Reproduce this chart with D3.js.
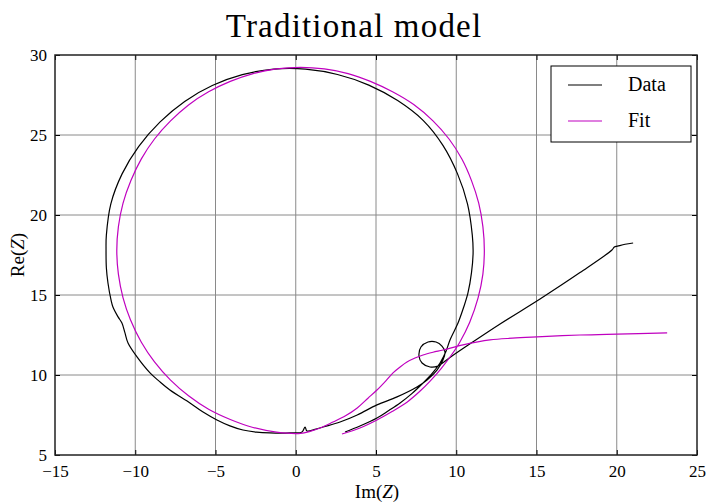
<!DOCTYPE html>
<html>
<head>
<meta charset="utf-8">
<script src="https://cdn.jsdelivr.net/npm/d3@7/dist/d3.min.js"></script>
<style>
  html, body { margin: 0; padding: 0; background: #fff; }
  svg { display: block; }
  text { font-family: "Liberation Serif", "DejaVu Serif", serif; fill: #000; }
</style>
</head>
<body>
<svg id="chart" width="709" height="504"></svg>
<script>
// Measured impedance trace: Im(Z) and Re(Z)
const dataIm = [3.07, 4.00, 5.06, 5.80, 6.50, 7.25, 7.93, 8.50, 8.99, 9.35, 9.61, 10.11, 10.45, 10.73, 10.95, 11.05, 11.00, 10.70, 10.08, 9.17, 7.95, 6.35, 4.55, 2.60, 0.61, -1.37, -3.33, -5.20, -6.92, -8.45, -9.78, -10.82, -11.52, -11.80, -11.82, -11.80, -11.70, -11.51, -11.39, -11.07, -10.83, -10.64, -10.45, -9.89, -9.08, -8.50, -7.84, -6.59, -5.80, -4.91, -4.10, -3.29, -2.45, -1.61, -0.36, 0.39, 0.58, 0.70, 1.20, 1.70, 2.76, 3.83, 5.06, 6.31, 7.55, 8.18, 8.80, 9.17, 9.30, 9.11, 8.74, 8.24, 7.80, 7.68, 7.87, 8.37, 8.86, 9.61, 10.86, 12.73, 15.22, 17.71, 19.70, 19.85, 20.05, 20.52, 21.02];
const dataRe = [6.44, 6.81, 7.31, 7.78, 8.25, 8.85, 9.50, 10.10, 10.75, 11.45, 12.19, 13.25, 14.20, 15.13, 16.40, 17.63, 18.74, 20.70, 22.57, 24.35, 25.90, 27.15, 28.12, 28.78, 29.12, 29.12, 28.77, 28.09, 27.10, 25.82, 24.29, 22.57, 20.70, 18.74, 17.81, 16.70, 15.75, 14.69, 14.25, 13.63, 13.25, 12.63, 12.00, 11.13, 10.13, 9.60, 9.06, 8.25, 7.70, 7.19, 6.82, 6.56, 6.43, 6.38, 6.38, 6.44, 6.75, 6.50, 6.60, 6.75, 7.06, 7.50, 8.13, 8.63, 9.25, 9.69, 10.31, 10.94, 11.44, 11.81, 12.06, 12.06, 11.75, 11.19, 10.75, 10.50, 10.56, 11.10, 11.95, 13.19, 14.75, 16.40, 17.81, 18.00, 18.05, 18.17, 18.25];

// Fitted model: Im(Z) and Re(Z)
const fitIm = [2.88, 4.00, 5.06, 6.00, 6.93, 7.70, 8.40, 9.07, 9.70, 10.22, 10.84, 11.36, 11.66, 11.75, 11.66, 11.40, 10.95, 10.35, 9.55, 8.55, 7.35, 6.03, 4.65, 3.26, 1.78, 0.30, -1.20, -2.66, -4.08, -5.43, -6.68, -7.80, -8.80, -9.62, -10.27, -10.76, -11.05, -11.15, -11.05, -10.76, -10.30, -9.62, -8.80, -7.80, -6.68, -5.43, -4.08, -2.66, -1.20, 0.30, 0.89, 1.60, 2.32, 3.10, 3.83, 4.50, 5.06, 5.60, 6.06, 6.50, 6.93, 7.43, 7.93, 8.55, 9.17, 10.42, 12.10, 13.50, 15.03, 17.71, 20.02, 23.14];
const fitRe = [6.31, 6.69, 7.19, 7.72, 8.30, 8.95, 9.65, 10.42, 11.25, 12.05, 13.30, 14.82, 16.30, 17.78, 19.27, 20.74, 22.15, 23.50, 24.75, 25.88, 26.90, 27.70, 28.35, 28.84, 29.13, 29.23, 29.13, 28.84, 28.35, 27.70, 26.88, 25.88, 24.75, 23.51, 22.15, 20.74, 19.27, 17.78, 16.30, 14.82, 13.45, 12.05, 10.82, 9.68, 8.70, 7.86, 7.22, 6.72, 6.43, 6.35, 6.48, 6.72, 7.06, 7.45, 7.94, 8.55, 9.06, 9.62, 10.13, 10.50, 10.81, 11.06, 11.25, 11.42, 11.56, 11.88, 12.19, 12.30, 12.38, 12.50, 12.56, 12.63];

const xTicks = [-15, -10, -5, 0, 5, 10, 15, 20, 25];
const yTicks = [5, 10, 15, 20, 25, 30];
const legendLabels = ["Data", "Fit"];
const seriesColors = ["#000000", "#bf00bf"];

const svg = d3.select("#chart");
const m = { left: 55, right: 697, top: 55, bottom: 455 };

const x = d3.scaleLinear().domain([-15, 25]).range([m.left, m.right]);
const y = d3.scaleLinear().domain([5, 30]).range([m.bottom, m.top]);

// grid
const grid = svg.append("g");
grid.selectAll("line.gx").data(xTicks.slice(1, -1)).join("line")
  .attr("x1", d => x(d)).attr("x2", d => x(d))
  .attr("y1", m.top).attr("y2", m.bottom)
  .attr("stroke", "#8a8a8a").attr("stroke-width", 1);
grid.selectAll("line.gy").data(yTicks.slice(1, -1)).join("line")
  .attr("x1", m.left).attr("x2", m.right)
  .attr("y1", d => y(d)).attr("y2", d => y(d))
  .attr("stroke", "#8a8a8a").attr("stroke-width", 1);

// series
svg.append("clipPath").attr("id", "plotclip")
  .append("rect").attr("x", m.left).attr("y", m.top)
  .attr("width", m.right - m.left).attr("height", m.bottom - m.top);

const line = d3.line().x(d => x(d[0])).y(d => y(d[1])).curve(d3.curveCatmullRom.alpha(0.5));
const dataPts = dataIm.map((v, i) => [v, dataRe[i]]);
const fitPts = fitIm.map((v, i) => [v, fitRe[i]]);

const plot = svg.append("g").attr("clip-path", "url(#plotclip)");
plot.append("path").datum(dataPts).attr("d", line)
  .attr("fill", "none").attr("stroke", seriesColors[0]).attr("stroke-width", 1.2)
  .attr("stroke-linejoin", "round");
plot.append("path").datum(fitPts).attr("d", line)
  .attr("fill", "none").attr("stroke", seriesColors[1]).attr("stroke-width", 1.2);

// axes with inward ticks on all four sides
const fmt = d => (d < 0 ? "\u2212" + Math.abs(d) : String(d));
const axB = d3.axisBottom(x).tickValues(xTicks).tickSize(-5).tickPadding(10).tickFormat(fmt);
const axT = d3.axisTop(x).tickValues(xTicks).tickSize(-5).tickFormat("");
const axL = d3.axisLeft(y).tickValues(yTicks).tickSize(-5).tickPadding(8).tickFormat(fmt);
const axR = d3.axisRight(y).tickValues(yTicks).tickSize(-5).tickFormat("");

function style(g) {
  g.select(".domain").remove();
  g.selectAll(".tick line").attr("stroke", "#000").attr("stroke-width", 1);
  g.selectAll(".tick text").attr("font-size", 17)
    .attr("font-family", "'Liberation Serif', 'DejaVu Serif', serif").attr("fill", "#000");
}
svg.append("g").attr("transform", `translate(0,${m.bottom})`).call(axB).call(style);
svg.append("g").attr("transform", `translate(0,${m.top})`).call(axT).call(style);
svg.append("g").attr("transform", `translate(${m.left},0)`).call(axL).call(style);
svg.append("g").attr("transform", `translate(${m.right},0)`).call(axR).call(style);

// frame
svg.append("rect").attr("x", m.left).attr("y", m.top)
  .attr("width", m.right - m.left).attr("height", m.bottom - m.top)
  .attr("fill", "none").attr("stroke", "#222").attr("stroke-width", 1.5);

// title and axis labels
svg.append("text").attr("x", 354).attr("y", 37).attr("text-anchor", "middle")
  .attr("font-size", 33).attr("letter-spacing", 1.2).text("Traditional model");

const xl = svg.append("text").attr("x", 377).attr("y", 498).attr("text-anchor", "middle").attr("font-size", 19);
xl.append("tspan").text("Im(");
xl.append("tspan").attr("font-style", "italic").text("Z");
xl.append("tspan").text(")");

const yl = svg.append("text").attr("transform", `translate(24,${(m.top + m.bottom) / 2}) rotate(-90)`)
  .attr("text-anchor", "middle").attr("font-size", 19);
yl.append("tspan").text("Re(");
yl.append("tspan").attr("font-style", "italic").text("Z");
yl.append("tspan").text(")");

// legend
const lg = svg.append("g");
lg.append("rect").attr("x", 551).attr("y", 66).attr("width", 140).attr("height", 76)
  .attr("fill", "#fff").attr("stroke", "#000").attr("stroke-width", 1);
legendLabels.forEach((lab, i) => {
  const cy = 85 + i * 36;
  lg.append("line").attr("x1", 568).attr("x2", 602).attr("y1", cy).attr("y2", cy)
    .attr("stroke", seriesColors[i]).attr("stroke-width", 1.2);
  lg.append("text").attr("x", 628).attr("y", cy + 6).attr("font-size", 20).text(lab);
});
</script>
</body>
</html>
